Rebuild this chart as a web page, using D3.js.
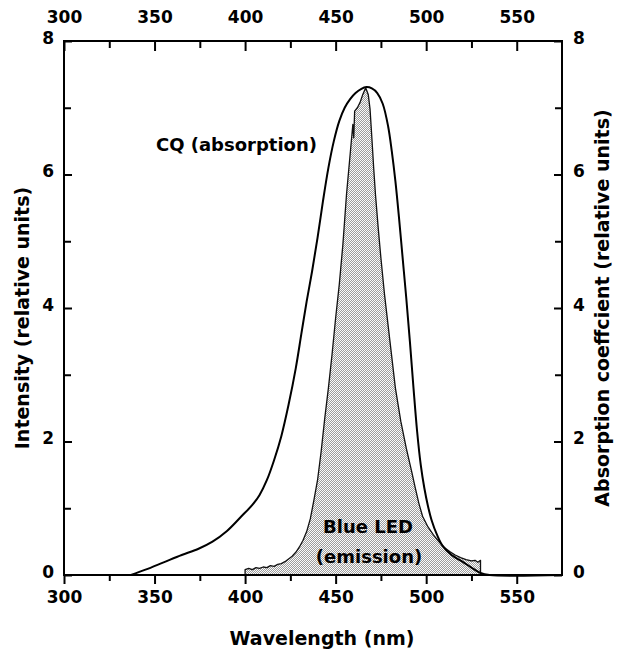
<!DOCTYPE html>
<html>
<head>
<meta charset="utf-8">
<script src="https://cdn.jsdelivr.net/npm/d3@7/dist/d3.min.js"></script>
<style>
  html, body { margin: 0; padding: 0; background: #fff; overflow: hidden; }
  svg { display: block; }
  text { font-family: "DejaVu Sans", sans-serif; font-weight: bold; }
</style>
</head>
<body>
<div id="chart"></div>
<script>
// CQ absorption curve: wavelength (nm), relative absorption
const cqWave = [337, 345, 355, 365, 374, 382, 390, 398, 404, 408, 412, 416, 420, 424, 428, 431, 434, 437, 440, 443, 446, 449, 452, 455, 458, 461, 464, 467, 470, 473, 476, 479, 481, 483, 485, 487, 489, 491, 493, 495, 497, 499, 501, 503, 506, 509, 514, 520, 525, 530, 535, 575];
const cqAbs  = [0, 0.08, 0.19, 0.30, 0.39, 0.50, 0.66, 0.88, 1.05, 1.20, 1.42, 1.72, 2.08, 2.55, 3.10, 3.60, 4.10, 4.55, 5.05, 5.60, 6.10, 6.50, 6.80, 7.00, 7.13, 7.22, 7.28, 7.31, 7.29, 7.22, 7.06, 6.72, 6.35, 5.90, 5.35, 4.75, 4.15, 3.50, 2.80, 2.15, 1.65, 1.30, 1.03, 0.82, 0.60, 0.44, 0.30, 0.20, 0.11, 0.03, 0, 0];

// Blue LED emission: wavelength (nm), relative intensity
const ledWave = [400, 400, 402, 404, 406, 408, 410, 412, 414, 416, 418, 420, 422, 424, 426, 428, 430, 432, 434, 436, 438, 440, 442, 444, 446, 448, 450, 452, 454, 456, 458, 459.5, 460, 460.5, 462, 463.5, 465, 466.6, 468, 469, 470, 471, 472, 473.5, 475, 477, 480, 483, 486, 489, 492, 494, 496, 498, 501, 504, 507, 510, 513, 516, 519, 522, 525, 527, 528.5, 530, 530];
const ledInt  = [0, 0.08, 0.10, 0.08, 0.11, 0.10, 0.12, 0.11, 0.14, 0.13, 0.16, 0.17, 0.20, 0.24, 0.28, 0.34, 0.42, 0.52, 0.65, 0.84, 1.12, 1.42, 1.85, 2.35, 2.80, 3.30, 3.85, 4.35, 4.95, 5.70, 6.30, 6.75, 6.55, 6.95, 7.00, 7.08, 7.20, 7.30, 7.20, 6.98, 6.55, 6.10, 5.70, 5.20, 4.75, 4.20, 3.50, 2.80, 2.30, 1.90, 1.55, 1.30, 1.07, 0.88, 0.72, 0.60, 0.50, 0.41, 0.35, 0.30, 0.26, 0.23, 0.21, 0.22, 0.19, 0.22, 0];

const xMajor = [300, 350, 400, 450, 500, 550];
const xMinor = [325, 375, 425, 475, 525];
const yMajor = [0, 2, 4, 6, 8];
const yMinor = [1, 3, 5, 7];

const cq = cqWave.map((w, i) => ({ x: w, y: cqAbs[i] }));
const led = ledWave.map((w, i) => ({ x: w, y: ledInt[i] }));

const width = 618, height = 656;
const margin = { top: 41, right: 56, bottom: 81, left: 64 };
const innerWidth = width - margin.left - margin.right;
const innerHeight = height - margin.top - margin.bottom;

const svg = d3.select("#chart")
  .append("svg")
  .attr("width", width)
  .attr("height", height);

const defs = svg.append("defs");
const pat = defs.append("pattern")
  .attr("id", "dots")
  .attr("width", 2)
  .attr("height", 2)
  .attr("patternUnits", "userSpaceOnUse");
pat.append("rect").attr("width", 2).attr("height", 2).attr("fill", "#fbfbfb");
pat.append("rect").attr("width", 1).attr("height", 1).attr("fill", "#9c9c9c");
pat.append("rect").attr("x", 1).attr("y", 1).attr("width", 1).attr("height", 1).attr("fill", "#9c9c9c");

const g = svg.append("g")
  .attr("transform", `translate(${margin.left}, ${margin.top})`);

const xScale = d3.scaleLinear().domain([300, 575]).range([0, innerWidth]);
const yScale = d3.scaleLinear().domain([0, 8]).range([innerHeight, 0]);

// emission fill
g.append("path")
  .datum(led)
  .attr("d", d3.area().x(d => xScale(d.x)).y0(yScale(0)).y1(d => yScale(d.y)))
  .attr("fill", "url(#dots)")
  .attr("stroke", "#111")
  .attr("stroke-width", 1.3)
  .attr("stroke-linejoin", "round");

// absorption line
g.append("path")
  .datum(cq)
  .attr("d", d3.line().x(d => xScale(d.x)).y(d => yScale(d.y)).curve(d3.curveCatmullRom))
  .attr("fill", "none")
  .attr("stroke", "#000")
  .attr("stroke-width", 2);

// axes
function styleAxis(sel) {
  sel.select(".domain").remove();
  sel.selectAll("line").attr("stroke", "#000").attr("stroke-width", 2);
  sel.selectAll("text").attr("fill", "#000").style("font-size", "17px");
}

g.append("g").attr("transform", `translate(0, ${innerHeight})`)
  .call(d3.axisBottom(xScale).tickValues(xMajor).tickSize(9).tickPadding(7).tickFormat(d3.format("d")))
  .call(styleAxis);
g.append("g").attr("transform", `translate(0, ${innerHeight})`)
  .call(d3.axisBottom(xScale).tickValues(xMinor).tickSize(6).tickFormat(""))
  .call(styleAxis);

g.append("g")
  .call(d3.axisTop(xScale).tickValues(xMajor).tickSize(-10).tickPadding(18).tickFormat(d3.format("d")))
  .call(styleAxis);
g.append("g")
  .call(d3.axisTop(xScale).tickValues(xMinor).tickSize(-7).tickFormat(""))
  .call(styleAxis);

g.append("g")
  .call(d3.axisLeft(yScale).tickValues(yMajor).tickSize(-8).tickPadding(10).tickFormat(d3.format("d")))
  .call(styleAxis)
  .selectAll("text").attr("dy", "0.14em");
g.append("g")
  .call(d3.axisLeft(yScale).tickValues(yMinor).tickSize(-7).tickFormat(""))
  .call(styleAxis);

g.append("g").attr("transform", `translate(${innerWidth}, 0)`)
  .call(d3.axisRight(yScale).tickValues(yMajor).tickSize(-8).tickPadding(11).tickFormat(d3.format("d")))
  .call(styleAxis)
  .selectAll("text").attr("dy", "0.14em");
g.append("g").attr("transform", `translate(${innerWidth}, 0)`)
  .call(d3.axisRight(yScale).tickValues(yMinor).tickSize(-7).tickFormat(""))
  .call(styleAxis);

// frame
g.append("rect")
  .attr("width", innerWidth)
  .attr("height", innerHeight)
  .attr("fill", "none")
  .attr("stroke", "#000")
  .attr("stroke-width", 2);

// labels in the plot
g.append("text")
  .attr("x", 253).attr("y", 110)
  .attr("text-anchor", "end")
  .style("font-size", "18px")
  .text("CQ (absorption)");

g.append("text")
  .attr("x", 304).attr("y", 492)
  .attr("text-anchor", "middle")
  .style("font-size", "18px")
  .text("Blue LED");
g.append("text")
  .attr("x", 305).attr("y", 522)
  .attr("text-anchor", "middle")
  .style("font-size", "18px")
  .text("(emission)");

// axis titles
svg.append("text")
  .attr("x", 322).attr("y", 645)
  .attr("text-anchor", "middle")
  .style("font-size", "19px")
  .text("Wavelength (nm)");

svg.append("text")
  .attr("transform", "translate(29, 318) rotate(-90)")
  .attr("text-anchor", "middle")
  .style("font-size", "19px")
  .text("Intensity (relative units)");

svg.append("text")
  .attr("transform", "translate(609, 308) rotate(-90)")
  .attr("text-anchor", "middle")
  .style("font-size", "19px")
  .text("Absorption coeffcient (relative units)");
</script>
</body>
</html>
